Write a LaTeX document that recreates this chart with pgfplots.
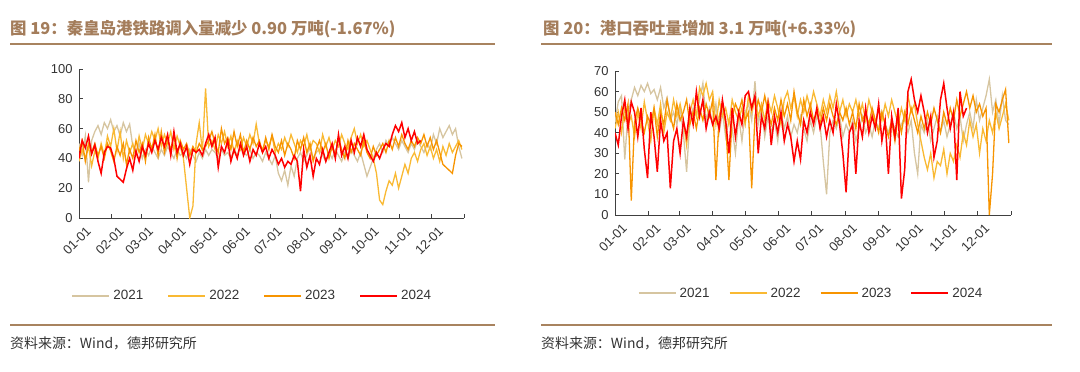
\documentclass[border=0pt]{standalone}
\usepackage{fontspec}
\setmainfont{Liberation Sans}
\newfontfamily\cjk{Noto Sans CJK SC}
\usepackage{pgfplots}
\usepackage{pgfplotstable}
\pgfplotsset{compat=1.18}
\definecolor{c21}{HTML}{D6C5A0}
\definecolor{c22}{HTML}{F9B933}
\definecolor{c23}{HTML}{F79400}
\definecolor{c24}{HTML}{FF0000}
\definecolor{titlebrown}{HTML}{A47D5B}
\definecolor{rulebrown}{HTML}{A8835F}
\definecolor{axisgray}{HTML}{404040}
\definecolor{labelgray}{HTML}{333333}

\pgfplotstableread{
day a b c d
0 50 38 45 40
3 42 46 52 52
6 55 40 38 47
9 24 48 50 55
12 52 35 44 43
15 58 45 50 49
18 62 40 42 38
21 56 50 48 30
24 64 42 40 44
27 60 55 50 48
30 66 48 45 47
33 58 60 38 40
36 62 45 48 28
39 55 58 42 26
42 64 40 50 24
45 58 52 36 33
48 63 44 46 40
51 48 50 40 32
54 44 42 52 45
57 50 55 44 38
60 40 46 50 48
63 46 56 38 42
66 42 50 54 50
69 48 58 46 44
72 44 52 56 52
75 40 60 42 46
78 46 48 58 54
81 42 56 44 48
84 48 50 52 56
87 44 58 46 42
90 40 46 56 58
93 46 55 40 44
96 42 48 52 50
99 44 40 46 42
102 40 20 50 48
105 46 0 42 36
108 42 8 48 46
111 38 50 44 44
114 44 64 50 46
117 40 45 46 42
120 46 87 48 50
123 42 48 52 56
126 46 52 58 48
129 44 46 50 54
132 40 56 44 34
135 46 50 60 48
138 42 58 50 44
141 44 48 54 52
144 40 55 46 38
147 46 44 58 46
150 42 52 48 40
153 48 46 56 50
156 44 54 44 42
159 42 48 52 48
162 46 56 46 38
165 40 50 54 46
168 44 63 48 42
171 42 50 52 50
174 38 46 44 44
177 44 52 54 48
180 40 48 46 40
183 36 55 56 46
186 42 44 48 42
189 30 50 44 36
192 25 46 52 40
195 32 54 42 34
198 22 48 50 38
201 35 56 46 36
204 28 50 40 42
207 40 44 52 38
210 44 52 46 18
213 38 48 54 46
216 42 56 44 34
219 48 46 50 42
222 40 52 38 28
225 44 50 46 40
228 46 44 52 36
231 42 56 44 46
234 38 48 50 38
237 44 54 40 44
240 40 46 48 50
243 46 52 42 40
246 42 48 54 56
249 38 56 46 42
252 44 50 40 48
255 40 46 52 40
258 46 54 44 52
261 42 60 50 44
264 38 50 46 54
267 44 56 42 48
270 36 48 52 56
273 28 52 44 46
276 34 46 40 42
279 40 40 48 38
282 46 30 42 44
285 50 12 46 40
288 44 9 50 46
291 52 18 44 50
294 48 25 52 48
297 54 22 46 56
300 50 30 54 62
303 46 20 48 58
306 52 28 56 64
309 48 36 50 54
312 44 30 46 60
315 50 40 52 52
318 46 44 48 58
321 52 38 54 50
324 48 46 50 52
327 44 50 56 nan
330 50 42 48 nan
333 46 48 54 nan
336 56 40 46 nan
339 50 46 52 nan
342 60 38 44 nan
345 54 48 36 nan
348 58 42 34 nan
351 62 50 32 nan
354 56 44 30 nan
357 60 48 42 nan
360 48 52 50 nan
363 40 46 48 nan
}\dataA

\pgfplotstableread{
day a b c d
0 45 42 50 40
3 55 50 44 34
6 58 40 52 48
9 27 52 46 56
12 50 44 54 42
15 56 48 7 55
18 62 38 45 50
21 58 50 52 38
24 63 42 46 52
27 60 55 40 32
30 64 46 48 18
33 59 36 44 50
36 61 52 52 38
39 56 44 38 21
42 62 54 50 46
45 52 40 44 36
48 57 50 56 40
51 46 46 48 13
54 50 56 42 36
57 44 48 54 42
60 52 54 46 30
63 40 46 50 46
66 21 34 56 38
69 46 50 44 52
72 52 56 50 44
75 48 48 42 60
78 56 62 52 48
81 64 58 46 56
84 46 64 54 42
87 52 56 48 50
90 44 60 56 44
93 54 44 17 48
96 40 56 48 42
99 50 48 54 56
102 38 52 44 46
105 46 44 17 30
108 42 56 48 52
111 30 50 54 38
114 48 46 50 50
117 36 52 56 44
120 50 44 46 58
123 54 58 50 60
126 46 50 13 52
129 65 56 48 58
132 44 48 56 30
135 52 54 50 48
138 38 46 58 42
141 48 56 50 54
144 40 50 44 34
147 46 58 52 48
150 36 52 46 40
153 50 44 56 50
156 42 56 48 36
159 48 60 54 44
162 38 52 46 38
165 44 58 60 26
168 40 48 50 36
171 48 56 44 27
174 42 50 56 46
177 36 58 48 40
180 46 52 54 50
183 40 60 46 44
186 48 54 50 52
189 44 48 44 42
192 26 56 52 48
195 10 50 46 38
198 40 58 54 46
201 46 52 48 40
204 42 60 44 54
207 48 50 50 44
210 38 56 46 30
213 44 48 52 11
216 40 54 44 40
219 46 50 50 44
222 36 56 42 20
225 42 48 54 46
228 48 54 46 38
231 40 46 50 52
234 44 56 44 40
237 38 50 52 48
240 46 44 46 42
243 42 52 40 54
246 50 46 50 36
249 44 54 44 46
252 40 48 38 20
255 46 56 46 48
258 42 50 36 38
261 38 44 48 52
264 44 52 40 8
267 48 46 50 22
270 40 58 44 60
273 46 50 52 66
276 30 54 46 56
279 20 44 40 50
282 44 36 48 58
285 40 28 42 50
288 46 22 50 40
291 36 30 44 48
294 42 18 52 28
297 48 26 46 36
300 40 24 40 56
303 46 32 50 64
306 38 20 44 52
309 44 30 52 42
312 50 26 46 50
315 42 34 56 17
318 48 28 48 60
321 36 40 54 48
324 44 34 60 52
327 50 46 52 nan
330 42 38 58 nan
333 56 44 50 nan
336 46 30 54 nan
339 52 42 48 nan
342 58 36 52 nan
345 66 46 0 nan
348 50 40 20 nan
351 56 50 54 nan
354 44 42 50 nan
357 58 48 56 nan
360 46 54 61 nan
363 44 46 35 nan
}\dataB

\pgfplotsset{
  myaxis/.style={
    scale only axis,
    anchor=south west,
    axis x line*=bottom,
    axis y line*=left,
    axis line style={color=axisgray, line width=0.8bp, -},
    xmin=0, xmax=365,
    xtick={0,31,59,90,120,151,181,212,243,273,304,334,365},
    xticklabels={01-01,02-01,03-01,04-01,05-01,06-01,07-01,08-01,09-01,10-01,11-01,12-01,},
    tick align=inside,
    major tick length=4bp,
    tick style={color=axisgray, line width=0.8bp},
    xticklabel style={rotate=45, anchor=north east, font=\fontsize{13}{13}\selectfont, text=labelgray, inner sep=1bp, yshift=-9bp},
    yticklabel style={font=\fontsize{13}{13}\selectfont, text=labelgray, xshift=-3bp},
    /pgf/number format/assume math mode=true,
    unbounded coords=jump,
    legend columns=4,
    legend style={draw=none, fill=none, font=\fontsize{13.5}{13.5}\selectfont, text=labelgray, anchor=center,
      nodes={inner xsep=2bp},
      /tikz/every odd column/.append style={column sep=1bp}},
    legend image code/.code={\draw[#1, line width=2bp] (0bp,0bp) -- (37bp,0bp);},
  }
}

\begin{document}
\begin{tikzpicture}
\path[use as bounding box] (0,0) rectangle (1080bp,-372bp);

% titles and rules
\node[anchor=base west, inner sep=0, font=\cjk\bfseries\fontsize{16.5}{16.5}\selectfont, text=titlebrown] at (10bp,-34bp) {图 19：秦皇岛港铁路调入量减少 0.90 万吨(-1.67\%)};
\node[anchor=base west, inner sep=0, font=\cjk\bfseries\fontsize{16.5}{16.5}\selectfont, text=titlebrown] at (543bp,-34bp) {图 20：港口吞吐量增加 3.1 万吨(+6.33\%)};
\draw[rulebrown, line width=1.6bp] (10bp,-44bp) -- (495bp,-44bp);
\draw[rulebrown, line width=1.6bp] (541bp,-44bp) -- (1052bp,-44bp);
\draw[rulebrown, line width=1.6bp] (10bp,-325bp) -- (495bp,-325bp);
\draw[rulebrown, line width=1.6bp] (541bp,-325bp) -- (1052bp,-325bp);
\node[anchor=base west, inner sep=0, font=\cjk\fontsize{14}{14}\selectfont, text=labelgray] at (10bp,-348bp) {资料来源：Wind，德邦研究所};
\node[anchor=base west, inner sep=0, font=\cjk\fontsize{14}{14}\selectfont, text=labelgray] at (541bp,-348bp) {资料来源：Wind，德邦研究所};

\begin{axis}[myaxis, at={(79bp,-218bp)}, width=385bp, height=149bp,
  ymin=0, ymax=100, ytick={0,20,40,60,80,100},
  legend style={at={(0.45,-0.523)}, /tikz/every even column/.append style={column sep=22bp}}]
\addplot[c21, line width=1.3bp] table[x=day, y=a] {\dataA};
\addlegendentry{2021}
\addplot[c22, line width=1.3bp] table[x=day, y=b] {\dataA};
\addlegendentry{2022}
\addplot[c23, line width=1.3bp] table[x=day, y=c] {\dataA};
\addlegendentry{2023}
\addplot[c24, line width=1.5bp] table[x=day, y=d] {\dataA};
\addlegendentry{2024}
\end{axis}

\begin{axis}[myaxis, at={(615bp,-215bp)}, width=396bp, height=144bp,
  ymin=0, ymax=70, ytick={0,10,20,30,40,50,60,70},
  legend style={at={(0.495,-0.542)}, /tikz/every even column/.append style={column sep=17bp}}]
\addplot[c21, line width=1.3bp] table[x=day, y=a] {\dataB};
\addlegendentry{2021}
\addplot[c22, line width=1.3bp] table[x=day, y=b] {\dataB};
\addlegendentry{2022}
\addplot[c23, line width=1.3bp] table[x=day, y=c] {\dataB};
\addlegendentry{2023}
\addplot[c24, line width=1.5bp] table[x=day, y=d] {\dataB};
\addlegendentry{2024}
\end{axis}
\end{tikzpicture}
\end{document}
